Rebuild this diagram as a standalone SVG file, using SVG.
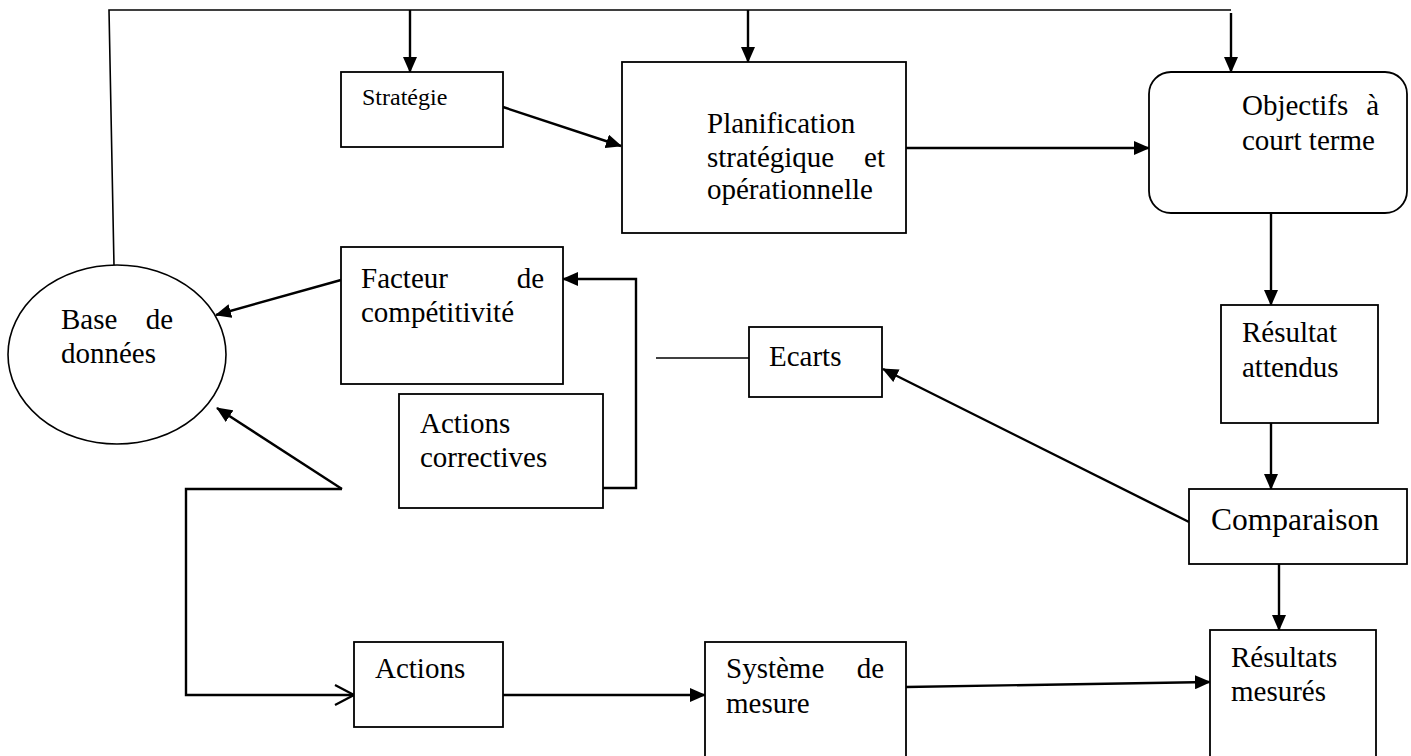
<svg xmlns="http://www.w3.org/2000/svg" width="1411" height="756" viewBox="0 0 1411 756">
  <defs>
    <style>
      .box { fill: #fff; stroke: #000; stroke-width: 1.8; }
      .lbl { font-family: "Liberation Serif", "Times New Roman", serif; font-size: 29px; fill: #000; }
      .ln { fill: none; stroke: #000; stroke-width: 2.4; }
      .thin { fill: none; stroke: #000; stroke-width: 1.6; }
      .arr { marker-end: url(#head); }
    </style>
    <marker id="head" markerUnits="userSpaceOnUse" markerWidth="16" markerHeight="14" viewBox="0 0 16 14" refX="15" refY="7" orient="auto">
      <path d="M0,0 L16,7 L0,14 z" fill="#000"/>
    </marker>
    <marker id="chev" markerUnits="userSpaceOnUse" markerWidth="22" markerHeight="24" viewBox="0 0 22 24" refX="20" refY="12" orient="auto">
      <path d="M1,2 L20,12 L1,22" fill="none" stroke="#000" stroke-width="2.2"/>
    </marker>
  </defs>

  <rect width="1411" height="756" fill="#fff"/>

  <!-- connectors -->
  <g id="connectors">
    <path class="thin" d="M114,266 L109,10 L1231,10"/>
    <path class="ln arr" d="M410,10 L410,72"/>
    <path class="ln arr" d="M748,10 L748,62"/>
    <path class="ln arr" d="M1231,13 L1231,72"/>
    <path class="ln arr" d="M503,107 L621,146"/>
    <path class="ln arr" d="M906,148 L1149,148"/>
    <path class="ln arr" d="M1271,213 L1271,305"/>
    <path class="ln arr" d="M1271,423 L1271,489"/>
    <path class="ln arr" d="M1279,564 L1279,630"/>
    <path class="ln arr" d="M1189,522 L883,369"/>
    <path class="thin" d="M656,358 L749,358"/>
    <path class="ln arr" d="M341,280 L216,315"/>
    <path class="ln arr" d="M636,384 L636,279 L563,279"/>
    <path class="ln arr" d="M636,384 L636,488 L548,488"/>
    <path class="ln arr" d="M342,489 L217,408"/>
    <path class="ln" d="M342,489 L186,489 L186,695 L354,695" marker-end="url(#chev)"/>
    <path class="ln arr" d="M503,695 L705,695"/>
    <path class="ln arr" d="M906,687 L1210,682"/>
  </g>

  <g id="strategie">
    <rect class="box" x="341" y="72" width="162" height="75"/>
    <text class="lbl" x="362" y="105" style="font-size:24px">Stratégie</text>
  </g>

  <g id="planification">
    <rect class="box" x="622" y="62" width="284" height="171"/>
    <text class="lbl"><tspan x="707" y="133">Planification</tspan><tspan x="707" y="167">stratégique</tspan><tspan x="885" y="167" text-anchor="end">et</tspan><tspan x="707" y="199">opérationnelle</tspan></text>
  </g>

  <g id="objectifs">
    <rect class="box" x="1149" y="72" width="258" height="141" rx="22" ry="22"/>
    <text class="lbl"><tspan x="1242" y="115">Objectifs</tspan><tspan x="1379" y="115" text-anchor="end">à</tspan><tspan x="1242" y="150">court terme</tspan></text>
  </g>

  <g id="resultat-attendus">
    <rect class="box" x="1221" y="305" width="157" height="118"/>
    <text class="lbl"><tspan x="1242" y="342">Résultat</tspan><tspan x="1242" y="377">attendus</tspan></text>
  </g>

  <g id="comparaison">
    <rect class="box" x="1189" y="489" width="218" height="75"/>
    <text class="lbl" x="1211" y="530" style="font-size:31.5px">Comparaison</text>
  </g>

  <g id="resultats-mesures">
    <rect class="box" x="1210" y="630" width="166" height="140"/>
    <text class="lbl"><tspan x="1231" y="667">Résultats</tspan><tspan x="1231" y="701">mesurés</tspan></text>
  </g>

  <g id="ecarts">
    <rect class="box" x="749" y="327" width="133" height="70"/>
    <text class="lbl" x="769" y="366">Ecarts</text>
  </g>

  <g id="facteur">
    <rect class="box" x="341" y="247" width="222" height="137"/>
    <text class="lbl"><tspan x="361" y="288">Facteur</tspan><tspan x="544" y="288" text-anchor="end">de</tspan><tspan x="361" y="322">compétitivité</tspan></text>
  </g>

  <g id="actions-correctives">
    <rect class="box" x="399" y="394" width="204" height="114"/>
    <text class="lbl"><tspan x="420" y="433">Actions</tspan><tspan x="420" y="467">correctives</tspan></text>
  </g>

  <g id="base-donnees">
    <ellipse cx="117" cy="354.5" rx="109" ry="89.5" fill="#fff" stroke="#000" stroke-width="1.6"/>
    <text class="lbl"><tspan x="61" y="329">Base</tspan><tspan x="173" y="329" text-anchor="end">de</tspan><tspan x="61" y="363">données</tspan></text>
  </g>

  <g id="actions">
    <rect class="box" x="354" y="642" width="149" height="85"/>
    <text class="lbl" x="375" y="678">Actions</text>
  </g>

  <g id="systeme-mesure">
    <rect class="box" x="705" y="642" width="201" height="130"/>
    <text class="lbl"><tspan x="726" y="678">Système</tspan><tspan x="884" y="678" text-anchor="end">de</tspan><tspan x="726" y="713">mesure</tspan></text>
  </g>
</svg>
